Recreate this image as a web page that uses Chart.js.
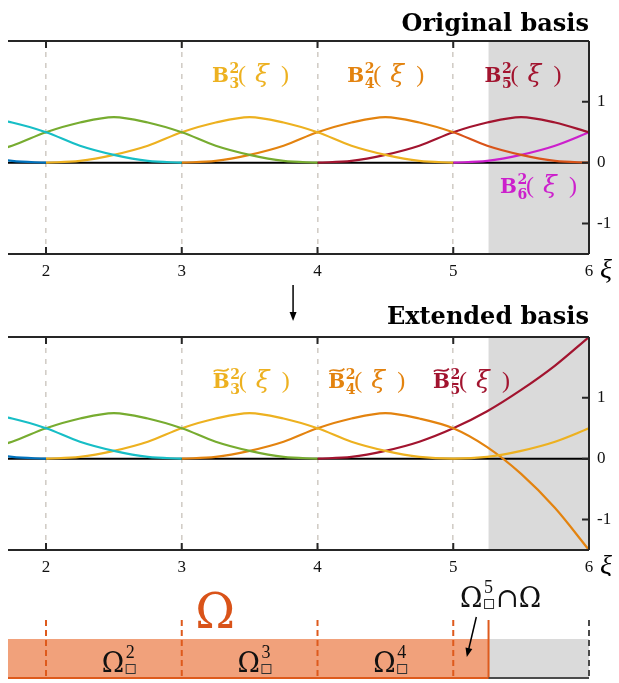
<!DOCTYPE html>
<html>
<head>
<meta charset="utf-8">
<script src="https://cdn.jsdelivr.net/npm/chart.js@4.4.0/dist/chart.umd.min.js"></script>
<style>
  html, body { margin: 0; padding: 0; background: #ffffff; }
  #wrap { position: relative; width: 619px; height: 683px; overflow: hidden; }
  canvas { position: absolute; left: 0; }
</style>
</head>
<body>
<div id="wrap">
  <canvas id="origChart" width="619" height="286" style="top:0px"></canvas>
  <canvas id="extChart" width="619" height="296" style="top:280px"></canvas>
  <canvas id="domainChart" width="619" height="107" style="top:576px"></canvas>
</div>
<script>
// ---- sample positions (knot spacing 1) ----
const xs = [1.25, 1.5, 1.75, 2, 2.25, 2.5, 2.75, 3, 3.25, 3.5, 3.75, 4, 4.25, 4.5, 4.75, 5, 5.25, 5.5, 5.75, 6];

// ---- original quadratic B-splines ----
const b0 = [0.28, 0.13, 0.03, 0, null, null, null, null, null, null, null, null, null, null, null, null, null, null, null, null];
const b1 = [0.66, 0.75, 0.66, 0.5, 0.28, 0.13, 0.03, 0, null, null, null, null, null, null, null, null, null, null, null, null];
const b2 = [0.03, 0.13, 0.28, 0.5, 0.66, 0.75, 0.66, 0.5, 0.28, 0.13, 0.03, 0, null, null, null, null, null, null, null, null];
const b3 = [null, null, null, 0, 0.03, 0.13, 0.28, 0.5, 0.66, 0.75, 0.66, 0.5, 0.28, 0.13, 0.03, 0, null, null, null, null];
const b4 = [null, null, null, null, null, null, null, 0, 0.03, 0.13, 0.28, 0.5, 0.66, 0.75, 0.66, 0.5, 0.28, 0.13, 0.03, 0];
const b5 = [null, null, null, null, null, null, null, null, null, null, null, 0, 0.03, 0.13, 0.28, 0.5, 0.66, 0.75, 0.66, 0.5];
const b6 = [null, null, null, null, null, null, null, null, null, null, null, null, null, null, null, 0, 0.03, 0.13, 0.28, 0.5];

// ---- extended B-splines (last cell continued polynomially) ----
const eb3 = [null, null, null, 0, 0.03, 0.13, 0.28, 0.5, 0.66, 0.75, 0.66, 0.5, 0.28, 0.13, 0.03, 0, 0.03, 0.13, 0.28, 0.5];
const eb4 = [null, null, null, null, null, null, null, 0, 0.03, 0.13, 0.28, 0.5, 0.66, 0.75, 0.66, 0.5, 0.19, -0.25, -0.81, -1.5];
const eb5 = [null, null, null, null, null, null, null, null, null, null, null, 0, 0.03, 0.13, 0.28, 0.5, 0.78, 1.13, 1.53, 2];

// ---- axes ----
const xTicks = [2, 3, 4, 5, 6];
const yTicks = [-1, 0, 1];
const X_MIN = 1.72, X_MAX = 6;
const Y_MIN = -1.5, Y_MAX = 2;

// ---- physical domain ----
const omegaSpan = [X_MIN, 5.26];
const outsideSpan = [5.26, X_MAX];
const cellLabels = [2, 3, 4];

const C = {
  blue: '#0072BD', cyan: '#17BEC6', green: '#77AC30', yellow: '#EDB120',
  orange: '#E3830F', red: '#A2142F', magenta: '#CC1FCC', orangeRed: '#D95319',
  shade: '#DADADA', grid: '#D2CDC7', axis: '#262626',
  omegaFill: '#F1A17B', omegaLine: '#DE5A1C'
};

const SERIF = '"Liberation Serif", "DejaVu Serif", serif';
const DSERIF = '"DejaVu Serif", "Liberation Serif", serif';
Chart.defaults.font.family = SERIF;

function series(values, color, extra) {
  return Object.assign({
    data: xs.map((x, i) => ({ x: x, y: values[i] })).filter(p => p.y !== null),
    borderColor: color,
    borderWidth: 2.2,
    pointRadius: 0,
    fill: false,
    cubicInterpolationMode: 'monotone'
  }, extra || {});
}

// bold B with sub/superscript and (ξ)
function basisLabel(ctx, x, y, color, idx, tilde) {
  ctx.save();
  ctx.fillStyle = color;
  ctx.strokeStyle = color;
  ctx.textAlign = 'left';
  ctx.textBaseline = 'alphabetic';
  ctx.font = 'bold 20px ' + DSERIF;
  ctx.fillText('B', x, y);
  if (tilde) {
    ctx.lineWidth = 1.7;
    ctx.beginPath();
    const ty = y - 18;
    ctx.moveTo(x + 1, ty + 1.5);
    ctx.bezierCurveTo(x + 5, ty - 3.5, x + 11, ty + 4.5, x + 16, ty - 1.5);
    ctx.stroke();
  }
  ctx.font = 'bold 14px ' + DSERIF;
  ctx.fillText('2', x + 17.5, y - 9);
  ctx.fillText(String(idx), x + 17.5, y + 6);
  ctx.font = '24px ' + SERIF;
  ctx.fillText('(', x + 26, y);
  ctx.font = 'italic 25px ' + DSERIF;
  ctx.fillText('\u03BE', x + 43, y);
  ctx.font = '24px ' + SERIF;
  ctx.fillText(')', x + 69, y);
  ctx.restore();
}

function drawArrow(ctx, x1, y1, x2, y2) {
  const ang = Math.atan2(y2 - y1, x2 - x1);
  const L = 9, W = 3.5;
  ctx.save();
  ctx.strokeStyle = '#000';
  ctx.fillStyle = '#000';
  ctx.lineWidth = 1.5;
  ctx.beginPath();
  ctx.moveTo(x1, y1);
  ctx.lineTo(x2 - L * 0.8 * Math.cos(ang), y2 - L * 0.8 * Math.sin(ang));
  ctx.stroke();
  ctx.beginPath();
  ctx.moveTo(x2, y2);
  ctx.lineTo(x2 - L * Math.cos(ang) + W * Math.sin(ang), y2 - L * Math.sin(ang) - W * Math.cos(ang));
  ctx.lineTo(x2 - L * Math.cos(ang) - W * Math.sin(ang), y2 - L * Math.sin(ang) + W * Math.cos(ang));
  ctx.closePath();
  ctx.fill();
  ctx.restore();
}

function panelDecor(cfg) {
  return {
    id: 'panelDecor',
    beforeDatasetsDraw(chart) {
      const { ctx, chartArea: a, scales: { x, y } } = chart;
      ctx.save();
      const gx = x.getPixelForValue(outsideSpan[0]);
      ctx.fillStyle = C.shade;
      ctx.fillRect(gx, a.top, a.right - gx, a.bottom - a.top);
      const y0 = y.getPixelForValue(0);
      ctx.strokeStyle = '#000';
      ctx.lineWidth = 2;
      ctx.beginPath();
      ctx.moveTo(a.left, y0);
      ctx.lineTo(a.right, y0);
      ctx.stroke();
      ctx.restore();
    },
    afterDatasetsDraw(chart) {
      const { ctx, chartArea: a, scales: { x, y } } = chart;
      ctx.save();
      // axes box (top, right, bottom) with inward ticks
      ctx.strokeStyle = C.axis;
      ctx.lineWidth = 2;
      ctx.beginPath();
      ctx.moveTo(a.left, a.top); ctx.lineTo(a.right, a.top);
      ctx.moveTo(a.right, a.top); ctx.lineTo(a.right, a.bottom);
      ctx.moveTo(a.left, a.bottom); ctx.lineTo(a.right, a.bottom);
      xTicks.forEach(v => {
        if (v >= X_MAX) return;
        const px = x.getPixelForValue(v);
        ctx.moveTo(px, a.top); ctx.lineTo(px, a.top + 7);
        ctx.moveTo(px, a.bottom); ctx.lineTo(px, a.bottom - 7);
      });
      yTicks.forEach(v => {
        const py = y.getPixelForValue(v);
        ctx.moveTo(a.right, py); ctx.lineTo(a.right - 7, py);
      });
      ctx.stroke();

      // title
      ctx.fillStyle = '#000';
      ctx.font = 'bold 24px ' + DSERIF;
      ctx.textAlign = 'right';
      ctx.textBaseline = 'alphabetic';
      ctx.fillText(cfg.title, a.right, cfg.titleY);

      // axis symbol
      ctx.font = 'italic 28px ' + SERIF;
      ctx.textAlign = 'left';
      ctx.fillText('\u03BE', a.right + 11, a.bottom + 24);

      // basis labels
      cfg.labels.forEach(l => {
        basisLabel(ctx, x.getPixelForValue(l.x), y.getPixelForValue(l.y), l.color, l.idx, cfg.tilde);
      });

      if (cfg.arrowX !== undefined) {
        const ax = x.getPixelForValue(cfg.arrowX);
        drawArrow(ctx, ax, cfg.arrowY[0], ax, cfg.arrowY[1]);
      }
      ctx.restore();
    }
  };
}

function panelOptions(padTop, axisHeight) {
  return {
    responsive: false,
    animation: false,
    events: [],
    layout: { padding: { left: 8, top: padTop, right: 0, bottom: 0 } },
    plugins: { legend: { display: false }, tooltip: { enabled: false }, title: { display: false } },
    scales: {
      x: {
        type: 'linear', min: X_MIN, max: X_MAX, position: 'bottom',
        afterFit: s => { s.height = axisHeight; },
        afterBuildTicks: s => { s.ticks = xTicks.map(v => ({ value: v })); },
        ticks: { padding: 7, autoSkip: false, maxRotation: 0, color: '#111', font: { size: 17, family: SERIF } },
        grid: {
          drawTicks: false, lineWidth: 1.6,
          color: c => (c.tick && c.tick.value < X_MAX) ? C.grid : 'rgba(0,0,0,0)'
        },
        border: { display: false, dash: [5, 6] }
      },
      y: {
        type: 'linear', min: Y_MIN, max: Y_MAX, position: 'right',
        afterFit: s => { s.width = 30; },
        afterBuildTicks: s => { s.ticks = yTicks.map(v => ({ value: v })); },
        ticks: { padding: 8, color: '#111', font: { size: 17, family: SERIF }, callback: v => String(v) },
        grid: { display: false, drawTicks: false },
        border: { display: false }
      }
    }
  };
}

// ---- original basis ----
new Chart(document.getElementById('origChart'), {
  type: 'line',
  data: {
    datasets: [
      series(b0, C.blue),
      series(b1, C.cyan),
      series(b2, C.green),
      series(b3, C.yellow),
      series(b4, C.orange, { segment: { borderColor: c => c.p0.parsed.x >= 5 ? C.orangeRed : C.orange } }),
      series(b5, C.red),
      series(b6, C.magenta)
    ]
  },
  options: panelOptions(41, 32),
  plugins: [panelDecor({
    title: 'Original basis', titleY: 31, tilde: false,
    labels: [
      { x: 3.223, y: 1.33, idx: 3, color: C.yellow },
      { x: 4.22, y: 1.33, idx: 4, color: C.orange },
      { x: 5.23, y: 1.33, idx: 5, color: C.red },
      { x: 5.344, y: -0.50, idx: 6, color: C.magenta }
    ]
  })]
});

// ---- extended basis ----
new Chart(document.getElementById('extChart'), {
  type: 'line',
  data: {
    datasets: [
      series(b0, C.blue),
      series(b1, C.cyan),
      series(b2, C.green),
      series(eb3, C.yellow),
      series(eb4, C.orange),
      series(eb5, C.red)
    ]
  },
  options: panelOptions(57, 26),
  plugins: [panelDecor({
    title: 'Extended basis', titleY: 44, tilde: true,
    arrowX: 3.82, arrowY: [5, 41],
    labels: [
      { x: 3.228, y: 1.16, idx: 3, color: C.yellow },
      { x: 4.08, y: 1.16, idx: 4, color: C.orange },
      { x: 4.85, y: 1.16, idx: 5, color: C.red }
    ]
  })]
});

// ---- domain Ω and its cells ----
function omegaCell(ctx, x0, yb, sup) {
  ctx.save();
  ctx.fillStyle = '#111';
  ctx.textAlign = 'left';
  ctx.textBaseline = 'alphabetic';
  ctx.font = '27px ' + DSERIF;
  ctx.fillText('\u03A9', x0, yb);
  ctx.font = '18px ' + SERIF;
  ctx.fillText(String(sup), x0 + 24, yb - 14);
  ctx.strokeStyle = '#333';
  ctx.lineWidth = 1;
  ctx.strokeRect(x0 + 24.5, yb - 7.5, 9, 9);
  ctx.restore();
}

new Chart(document.getElementById('domainChart'), {
  type: 'bar',
  data: {
    labels: ['\u03A9'],
    datasets: [
      { data: [omegaSpan], backgroundColor: C.omegaFill, grouped: false, barPercentage: 1, categoryPercentage: 1 },
      { data: [outsideSpan], backgroundColor: C.shade, grouped: false, barPercentage: 1, categoryPercentage: 1 }
    ]
  },
  options: {
    responsive: false,
    animation: false,
    events: [],
    indexAxis: 'y',
    layout: { padding: { left: 8, top: 63, right: 30, bottom: 4 } },
    plugins: { legend: { display: false }, tooltip: { enabled: false } },
    scales: {
      x: { type: 'linear', min: X_MIN, max: X_MAX, display: false },
      y: { type: 'category', display: false }
    }
  },
  plugins: [{
    id: 'domainDecor',
    afterDatasetsDraw(chart) {
      const { ctx, chartArea: a, scales: { x } } = chart;
      const top = a.top - 19, bot = a.bottom;
      const gx = x.getPixelForValue(omegaSpan[1]);
      ctx.save();
      ctx.lineWidth = 2;
      // knot lines
      ctx.setLineDash([6, 4]);
      ctx.strokeStyle = C.omegaLine;
      xTicks.forEach(v => {
        if (v >= X_MAX) return;
        const px = x.getPixelForValue(v);
        ctx.beginPath(); ctx.moveTo(px, top); ctx.lineTo(px, bot); ctx.stroke();
      });
      ctx.strokeStyle = '#4a4a4a';
      const ex = x.getPixelForValue(X_MAX);
      ctx.beginPath(); ctx.moveTo(ex, top); ctx.lineTo(ex, bot); ctx.stroke();
      ctx.setLineDash([]);
      // boundary of Ω
      ctx.strokeStyle = C.omegaLine;
      ctx.beginPath(); ctx.moveTo(gx, top); ctx.lineTo(gx, bot); ctx.stroke();
      ctx.beginPath(); ctx.moveTo(a.left, bot - 1); ctx.lineTo(gx, bot - 1); ctx.stroke();
      ctx.strokeStyle = '#4a4a4a';
      ctx.beginPath(); ctx.moveTo(gx, bot - 1); ctx.lineTo(ex, bot - 1); ctx.stroke();

      // Ω label
      ctx.fillStyle = C.orangeRed;
      ctx.font = '48px ' + DSERIF;
      ctx.textAlign = 'left';
      ctx.textBaseline = 'alphabetic';
      ctx.fillText('\u03A9', x.getPixelForValue(3.10), 52);

      // cell labels
      cellLabels.forEach(k => omegaCell(ctx, x.getPixelForValue(k + 0.41), 96, k));

      // cut cell label
      const cx = x.getPixelForValue(5.05);
      omegaCell(ctx, cx, 31, 5);
      ctx.fillStyle = '#111';
      ctx.font = '27px ' + DSERIF;
      ctx.fillText('\u2229\u03A9', cx + 36, 31);
      drawArrow(ctx, x.getPixelForValue(5.17), 41, x.getPixelForValue(5.10), 81);
      ctx.restore();
    }
  }]
});
</script>
</body>
</html>
